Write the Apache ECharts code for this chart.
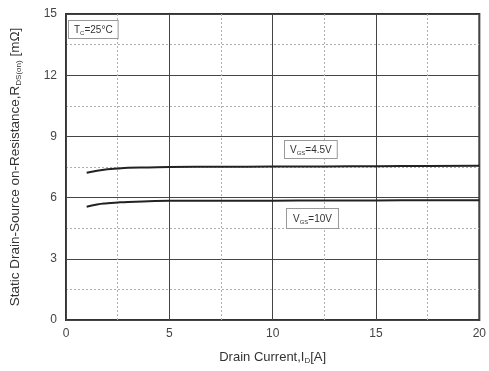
<!DOCTYPE html>
<html>
<head>
<meta charset="utf-8">
<script src="https://cdn.jsdelivr.net/npm/echarts@6/dist/echarts.min.js"></script>
<style>
  html, body { margin: 0; padding: 0; background: #fff; }
  #chart { width: 489px; height: 371px; }
</style>
</head>
<body>
<div id="chart"></div>
<script>
// drain current [A]
const current = [1, 1.5, 2, 2.5, 3, 4, 5, 7.5, 10, 12.5, 15, 17.5, 20]
// Rds(on) [mOhm]
const rVgs45 = [7.22, 7.32, 7.39, 7.43, 7.46, 7.48, 7.5, 7.51, 7.52, 7.53, 7.54, 7.55, 7.56]
const rVgs10 = [5.55, 5.66, 5.72, 5.76, 5.79, 5.82, 5.84, 5.85, 5.85, 5.86, 5.86, 5.87, 5.87]

const font = 'Liberation Sans, Arial, sans-serif'
const toPairs = (xs, ys) => xs.map((x, i) => [x, ys[i]])

const chart = echarts.init(document.getElementById('chart'))

const axisCommon = {
  type: 'value',
  axisLine: { show: false },
  axisTick: { show: false },
  axisLabel: { color: '#444', fontSize: 12, fontFamily: font },
  splitLine: { show: true, lineStyle: { color: '#444', width: 1 } },
  minorTick: { show: false, splitNumber: 2 },
  minorSplitLine: { show: true, lineStyle: { color: '#b0b0b0', type: [2, 2], width: 1 } }
}

chart.setOption({
  animation: false,
  grid: { left: 64, top: 14, right: 7, bottom: 51, show: true, borderColor: '#333', borderWidth: 2, backgroundColor: '#fff' },
  xAxis: Object.assign({}, axisCommon, {
    min: 0, max: 20, interval: 5,
    axisLabel: Object.assign({}, axisCommon.axisLabel, { margin: 8 }),
    name: '{t|Drain Current,I}{s|D}{t|[A]}',
    nameLocation: 'middle',
    nameGap: 29,
    nameTextStyle: {
      rich: {
        t: { fontSize: 13, color: '#333', fontFamily: font },
        s: { fontSize: 8, color: '#333', fontFamily: font, padding: [8, 0, 0, 0] }
      }
    }
  }),
  yAxis: Object.assign({}, axisCommon, {
    min: 0, max: 15, interval: 3,
    axisLabel: Object.assign({}, axisCommon.axisLabel, { margin: 9 }),
    name: '{t|Static Drain-Source on-Resistance,R}{s|DS(on)}{t| [mΩ]}',
    nameLocation: 'middle',
    nameGap: 43,
    nameTextStyle: {
      rich: {
        t: { fontSize: 13.5, color: '#333', fontFamily: font },
        s: { fontSize: 8, color: '#333', fontFamily: font, padding: [8, 0, 0, 0] }
      }
    }
  }),
  series: [
    {
      name: 'VGS=4.5V', type: 'line', smooth: true, symbol: 'none',
      data: toPairs(current, rVgs45),
      lineStyle: { color: '#222', width: 2 }
    },
    {
      name: 'VGS=10V', type: 'line', smooth: true, symbol: 'none',
      data: toPairs(current, rVgs10),
      lineStyle: { color: '#222', width: 2 }
    }
  ],
  graphic: [
    {
      type: 'text', left: 68, top: 20, z: 10,
      style: {
        text: '{t|T}{s|C}{t|=25°C}',
        backgroundColor: '#fff', borderColor: '#999', borderWidth: 1, padding: [3, 5, 2, 5],
        rich: {
          t: { fontSize: 10, fill: '#333', fontFamily: font },
          s: { fontSize: 6, fill: '#333', fontFamily: font, padding: [6, 0, 0, 0] }
        }
      }
    },
    {
      type: 'text', left: 284, top: 140, z: 10,
      style: {
        text: '{t|V}{s|GS}{t|=4.5V}',
        backgroundColor: '#fff', borderColor: '#999', borderWidth: 1, padding: [3, 5, 2, 5],
        rich: {
          t: { fontSize: 10, fill: '#333', fontFamily: font },
          s: { fontSize: 6, fill: '#333', fontFamily: font, padding: [6, 0, 0, 0] }
        }
      }
    },
    {
      type: 'text', left: 286, top: 208, z: 10,
      style: {
        text: '{t|V}{s|GS}{t|=10V}',
        backgroundColor: '#fff', borderColor: '#999', borderWidth: 1, padding: [4, 6, 3, 6],
        rich: {
          t: { fontSize: 10, fill: '#333', fontFamily: font },
          s: { fontSize: 6, fill: '#333', fontFamily: font, padding: [6, 0, 0, 0] }
        }
      }
    }
  ]
})
</script>
</body>
</html>
